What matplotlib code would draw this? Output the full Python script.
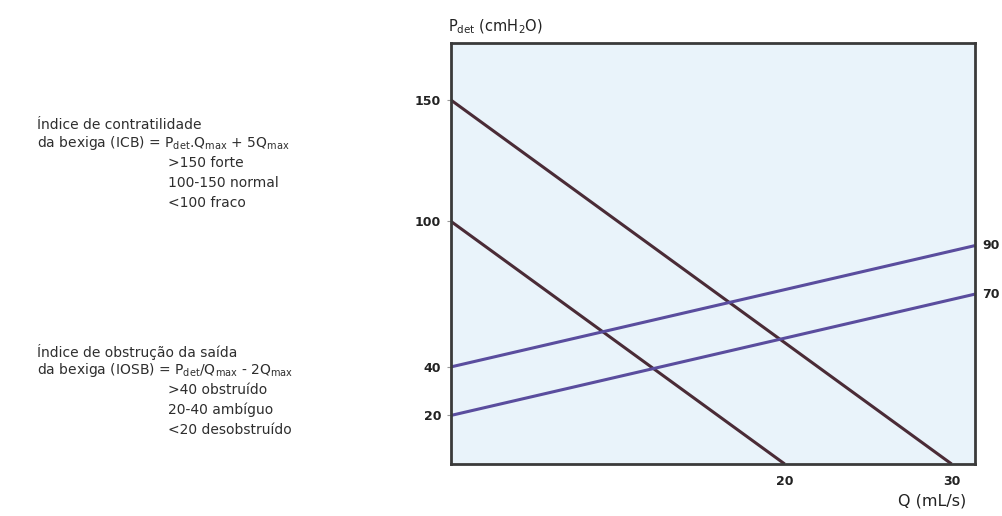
import matplotlib.pyplot as plt

plt.rcParams['font.family'] = ['DejaVu Sans']
plt.rcParams['mathtext.default'] = 'regular'

# Data (schematic nomogram)
q_max = 31.4          # right edge of the Q axis
p_max = 173.5         # top edge of the P axis
icb_start = [150, 100]   # P at Q=0 for the contractility lines
icb_end_q = [30, 20]     # Q where these lines reach P=0
iosb_start = [40, 20]    # P at Q=0 for the obstruction lines
iosb_end = [90, 70]      # P at right edge
y_ticks = [150, 100, 40, 20]
x_ticks = [20, 30]

fig = plt.figure(figsize=(10.02, 5.16), dpi=100)
ax = fig.add_axes([0.450, 0.1008, 0.523, 0.8159])
ax.set_facecolor('#e9f3fa')

for p0, q1 in zip(icb_start, icb_end_q):
    ax.plot([0, q1], [p0, 0], color='#4a2b36', lw=2.2, solid_capstyle='butt')
for p0, p1 in zip(iosb_start, iosb_end):
    ax.plot([0, q_max], [p0, p1], color='#5a4d9e', lw=2.2, solid_capstyle='butt')

ax.set_xlim(0, q_max)
ax.set_ylim(0, p_max)
for s in ax.spines.values():
    s.set_color('#3a3a3a')
    s.set_linewidth(2)

ax.set_yticks(y_ticks)
ax.set_yticklabels([str(v) for v in y_ticks], fontsize=9, fontweight='bold', color='#222')
ax.set_xticks(x_ticks)
ax.set_xticklabels([str(v) for v in x_ticks], fontsize=9, fontweight='bold', color='#222')
ax.tick_params(axis='y', length=3, width=0.8, pad=4, color='#999')
ax.tick_params(axis='x', length=0, pad=8)

# right-hand labels for the obstruction lines
for v in iosb_end:
    ax.annotate(str(v), xy=(q_max, v), xytext=(5, 0), textcoords='offset points',
                ha='left', va='center', fontsize=9, fontweight='bold', color='#222',
                annotation_clip=False)

fig.text(0.447, 0.940, r'P$_{det}$ (cmH$_2$O)', fontsize=10.5, color='#222', va='baseline')
fig.text(0.896, 0.020, 'Q (mL/s)', fontsize=11.5, color='#222', ha='left', va='baseline')

tc = '#2e2e2e'
fs = 10
fig.text(0.037, 0.757, 'Índice de contratilidade', fontsize=fs, color=tc, va='center')
fig.text(0.037, 0.722, r'da bexiga (ICB) = P$_{det}$.Q$_{max}$ + 5Q$_{max}$', fontsize=fs, color=tc, va='center')
fig.text(0.168, 0.684, '>150 forte', fontsize=fs, color=tc, va='center')
fig.text(0.168, 0.645, '100-150 normal', fontsize=fs, color=tc, va='center')
fig.text(0.168, 0.607, '<100 fraco', fontsize=fs, color=tc, va='center')

fig.text(0.037, 0.318, 'Índice de obstrução da saída', fontsize=fs, color=tc, va='center')
fig.text(0.037, 0.283, r'da bexiga (IOSB) = P$_{det}$/Q$_{max}$ - 2Q$_{max}$', fontsize=fs, color=tc, va='center')
fig.text(0.168, 0.244, '>40 obstruído', fontsize=fs, color=tc, va='center')
fig.text(0.168, 0.205, '20-40 ambíguo', fontsize=fs, color=tc, va='center')
fig.text(0.168, 0.167, '<20 desobstruído', fontsize=fs, color=tc, va='center')

fig.savefig('out.png', dpi=100, facecolor='white')
